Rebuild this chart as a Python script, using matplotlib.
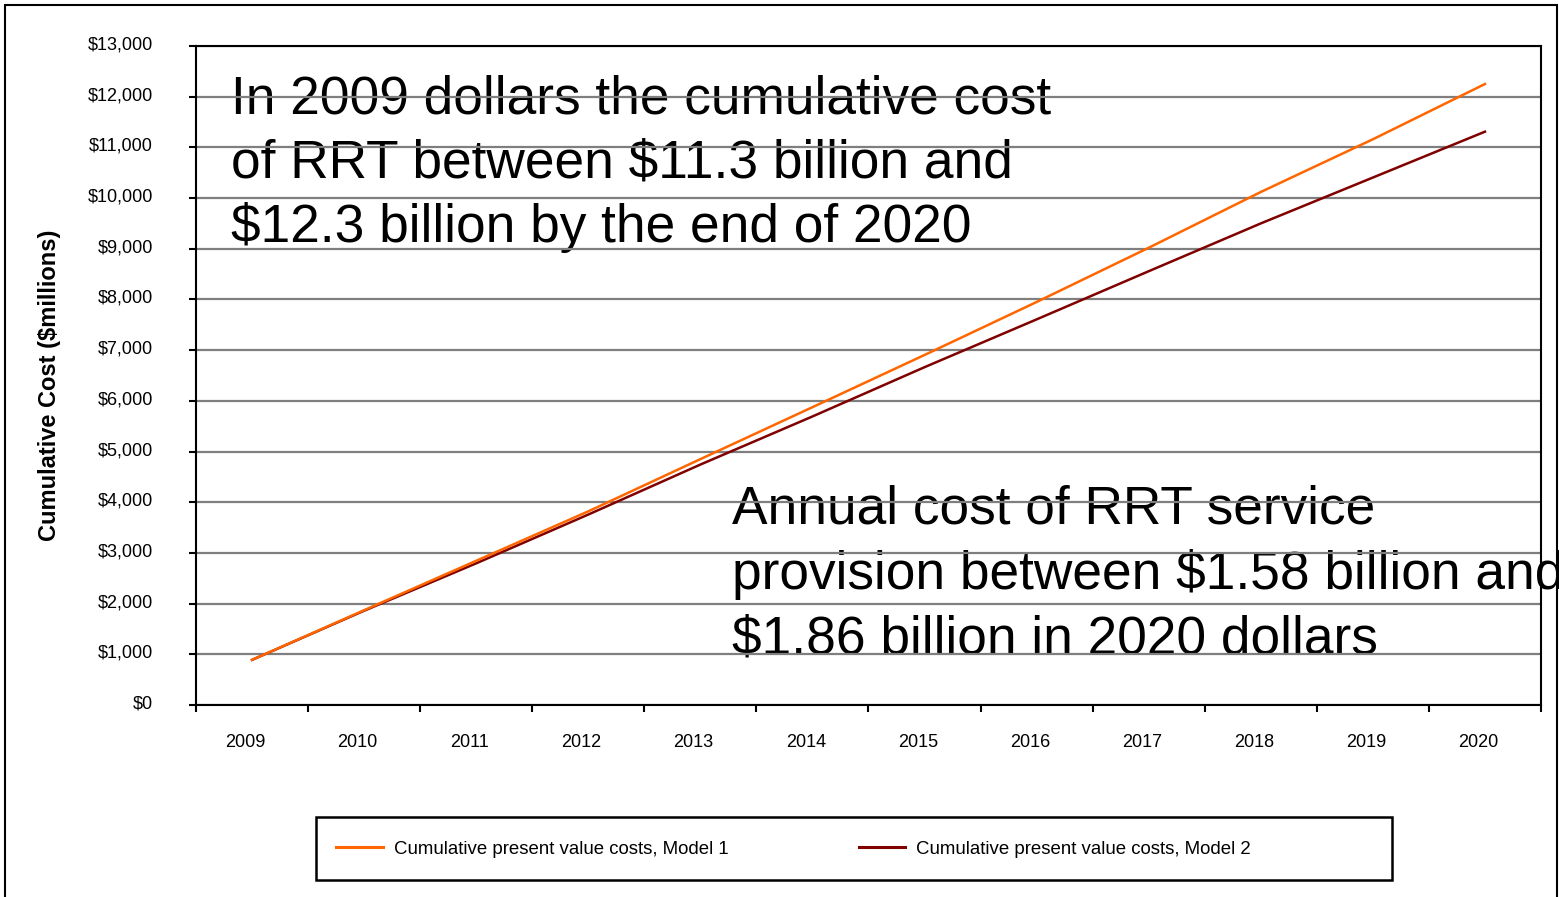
import matplotlib
matplotlib.use('Agg')
import matplotlib.pyplot as plt
from matplotlib.patches import Rectangle
from matplotlib.ticker import FixedLocator, FuncFormatter
from matplotlib.transforms import ScaledTranslation

plt.rcParams['font.family'] = ['Liberation Sans', 'DejaVu Sans']

years = ['2009', '2010', '2011', '2012', '2013', '2014',
         '2015', '2016', '2017', '2018', '2019', '2020']
# cumulative present value costs, $ millions
model_1 = [890, 1870, 2845, 3820, 4850, 5875, 6905, 7950, 9020, 10120, 11160, 12250]
model_2 = [890, 1860, 2795, 3757, 4743, 5692, 6664, 7607, 8557, 9500, 10405, 11310]
y_ticks = list(range(0, 13001, 1000))

W, H = 1559, 897
fig = plt.figure(figsize=(W / 100, H / 100), dpi=100)
fig.patch.set_facecolor('white')


def fx(px):
    return px / W


def fy(py):
    return 1 - py / H


ax = fig.add_axes([fx(196), fy(705), fx(1541) - fx(196), fy(46) - fy(705)])

x = list(range(len(years)))
ax.plot(x, model_1, color='#FF6600', lw=1.8, zorder=4,
        label='Cumulative present value costs, Model 1')
ax.plot(x, model_2, color='#800000', lw=1.8, zorder=3,
        label='Cumulative present value costs, Model 2')

ax.set_xlim(-0.5, len(years) - 0.5)
ax.set_ylim(0, 13000)

# y axis: dollar ticks and grey gridlines
ax.set_yticks(y_ticks)
ax.yaxis.set_major_formatter(FuncFormatter(lambda v, p: '${:,.0f}'.format(v)))
ax.tick_params(axis='y', direction='out', length=5, width=1.5, pad=26,
               labelsize=13, colors='black')
ax.yaxis.grid(True, color='#7f7f7f', lw=1.6)
nudge = ScaledTranslation(0, 3 / 100, fig.dpi_scale_trans)
for lbl in ax.get_yticklabels():
    lbl.set_transform(lbl.get_transform() + nudge)

# x axis: tick marks between categories, labels under each category
ax.xaxis.set_major_locator(FixedLocator([i - 0.5 for i in range(len(years) + 1)]))
ax.xaxis.set_major_formatter(FuncFormatter(lambda v, p: ''))
ax.xaxis.set_minor_locator(FixedLocator([i - 0.06 for i in x]))
ax.set_xticklabels(years, minor=True)
ax.tick_params(axis='x', which='major', direction='out', length=5, width=1.5)
ax.tick_params(axis='x', which='minor', length=0, pad=21, labelsize=13)

for s in ax.spines.values():
    s.set_linewidth(1.5)
    s.set_color('black')

ax.set_ylabel('Cumulative Cost ($millions)', fontsize=17, fontweight='bold', va='center')
ax.yaxis.set_label_coords((50 - 196) / 1345, (705 - 385) / 659)

# annotations sit beneath the gridlines
note_1 = ['In 2009 dollars the cumulative cost',
          'of RRT between $11.3 billion and',
          '$12.3 billion by the end of 2020']
note_2 = ['Annual cost of RRT service',
          'provision between $1.58 billion and',
          '$1.86 billion in 2020 dollars']
for i, line in enumerate(note_1):
    ax.text(fx(231), fy(113 + 64.5 * i), line, transform=fig.transFigure,
            fontsize=38.3, va='baseline', ha='left', zorder=1, clip_on=False)
for i, line in enumerate(note_2):
    ax.text(fx(732), fy(524 + 64.5 * i), line, transform=fig.transFigure,
            fontsize=38.3, va='baseline', ha='left', zorder=1, clip_on=False)

# legend with its own box
handles, labels = ax.get_legend_handles_labels()
leg = fig.legend(handles, labels, loc='center left', ncol=2,
                 bbox_to_anchor=(fx(336), fy(849)), frameon=False,
                 fontsize=13.4, handlelength=2.5, handletextpad=0.6,
                 columnspacing=7.0, borderpad=0, borderaxespad=0)
for h in leg.get_lines():
    h.set_linewidth(2.2)
fig.add_artist(Rectangle((fx(316), fy(880)), fx(1392) - fx(316), fy(817) - fy(880),
                         transform=fig.transFigure, fill=False, lw=1.8, edgecolor='black'))

# outer chart border
fig.add_artist(Rectangle((fx(5), -0.1), fx(1557) - fx(5), fy(5) + 0.1,
                         transform=fig.transFigure, fill=False, lw=1.5, edgecolor='black'))

fig.savefig('out.png', dpi=100)
